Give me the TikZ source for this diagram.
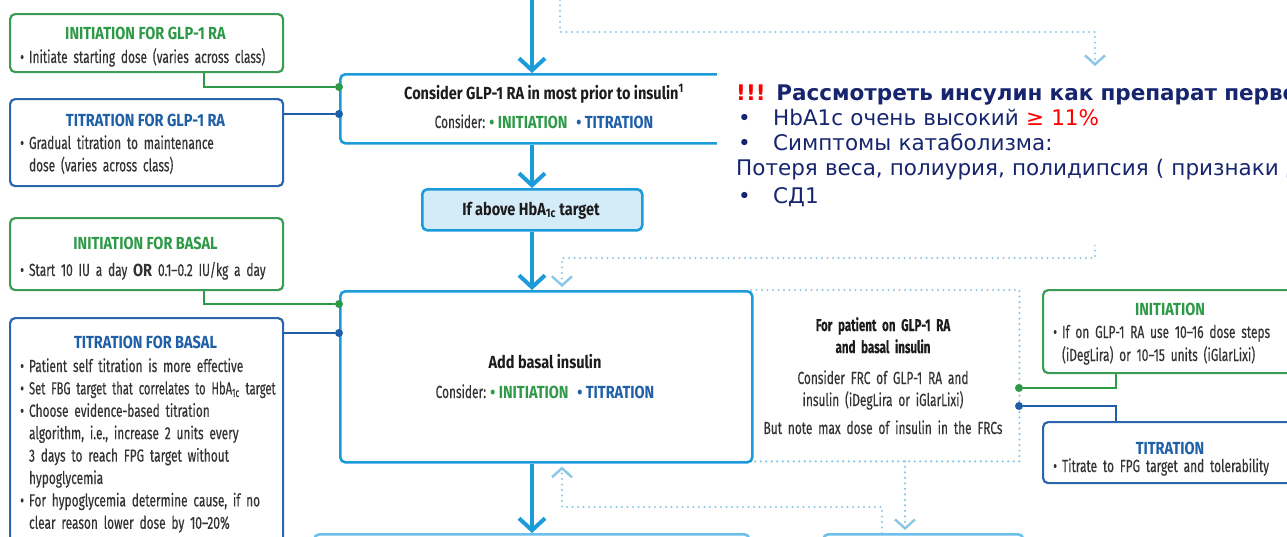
\documentclass[tikz,border=0pt]{standalone}
\usepackage{fontspec}
\usetikzlibrary{arrows.meta}
\newfontfamily\cf{Fira Sans}[FakeStretch=0.68, FakeBold=0.3]
\newfontfamily\cfb{Fira Sans Bold}[FakeStretch=0.83]
\newfontfamily\rufont{DejaVu Sans}
\definecolor{cG}{HTML}{2E9A48}
\definecolor{cGb}{HTML}{3C9C55}
\definecolor{cB}{HTML}{1F5FA8}
\definecolor{cBb}{HTML}{2B66AC}
\definecolor{cM}{HTML}{1B9BD9}
\definecolor{cD}{HTML}{8CC6E6}
\definecolor{cH}{HTML}{D4EBF8}
\definecolor{cL}{HTML}{6CC0EC}
\definecolor{cT}{HTML}{333333}
\definecolor{cK}{HTML}{1C1C1C}
\definecolor{cN}{HTML}{16256E}
\definecolor{cR}{HTML}{FF0000}
\newcommand\bul{•\hspace{5pt}}
\newcommand\nobul{\phantom{•}\hspace{5pt}}
\begin{document}
\begin{tikzpicture}[x=1pt,y=-1pt,
  box/.style={inner sep=0, anchor=north west, rounded corners=5pt, fill=white},
  gbox/.style={box, draw=cGb, line width=2.2pt},
  bbox/.style={box, draw=cBb, line width=2.2pt},
  mbox/.style={box, draw=cM, line width=2.6pt},
  hbox/.style={box, draw=cM, line width=2.6pt, fill=cH},
  lbox/.style={box, draw=cL, line width=2.6pt},
  gdot/.style={circle, fill=cG, inner sep=0, minimum size=8pt},
  bdot/.style={circle, fill=cB, inner sep=0, minimum size=8pt},
  gline/.style={draw=cG, line width=2.2pt},
  bline/.style={draw=cB, line width=2.2pt},
  main/.style={draw=cM, line width=4pt, -{Straight Barb[length=12pt,width=26pt]}},
  dotl/.style={draw=cD, line width=2.4pt, line cap=round, dash pattern=on 0pt off 5.5pt},
  dtip/.style={-{Straight Barb[length=9pt,width=20pt,line width=2.4pt]}},
  txt/.style={inner sep=0, font=\cf\fontsize{17.5}{22.4}\selectfont, text=cT},
  ttl/.style={txt, font=\cfb\fontsize{17.5}{22.4}\selectfont, anchor=base},
  lst/.style={txt, anchor=base west, text width=270pt, align=left},
  ctr/.style={txt, anchor=base, text width=300pt, align=center},
]
\useasboundingbox (0,0) rectangle (1287,536);
\clip (0,0) rectangle (1287,536);
\fill[white] (0,0) rectangle (1287,536);

% ---------- boxes ----------
\node[gbox, minimum width=273, minimum height=58] (ig) at (9,13) {};
\node[bbox, minimum width=273, minimum height=87] (tg) at (9,98) {};
\node[mbox, minimum width=412, minimum height=69] (glp) at (339,73) {};
\node[hbox, minimum width=220, minimum height=41] (hba) at (421,188) {};
\node[gbox, minimum width=273, minimum height=72] (ib) at (9,217) {};
\node[bbox, minimum width=273, minimum height=260] (tb) at (9,317) {};
\node[inner sep=0, anchor=north west, minimum width=268, minimum height=171] (frc) at (751,290) {};
\draw[dotl] (frc.north west) -- (frc.north east) -- (frc.south east) -- (frc.south west);
\node[mbox, minimum width=412, minimum height=171] (basal) at (339,290) {};
\node[gbox, minimum width=270, minimum height=83] (ri) at (1042,289) {};
\node[bbox, minimum width=270, minimum height=61] (rt) at (1042,421) {};
\node[lbox, minimum width=435, minimum height=60] (bl) at (313,533) {};
\node[lbox, minimum width=200, minimum height=60] (br) at (822,533) {};

% ---------- dots and side connectors ----------
\node[gdot] (d1) at (339,87) {};
\node[bdot] (d2) at (339,114) {};
\node[gdot] (d3) at (339,304) {};
\node[bdot] (d4) at (339,333) {};
\node[gdot] (d5) at (1019,388) {};
\node[bdot] (d6) at (1019,406) {};
\draw[gline] ([xshift=57.5pt]ig.south) |- (d1);
\draw[bline] (tg.east |- d2) -- (d2);
\draw[gline] ([xshift=57.5pt]ib.south) |- (d3);
\draw[bline] (tb.east |- d4) -- (d4);
\draw[gline] (d5) -| ([xshift=-62pt]ri.south);
\draw[bline] (d6) -| ([xshift=-62pt]rt.north);

% ---------- main arrows ----------
\coordinate (m) at (532,0);
\draw[main] (m) -- (glp.north -| m);
\draw[main] (glp.south -| m) -- (hba.north -| m);
\draw[main] (hba.south -| m) -- (basal.north -| m);
\draw[main] (basal.south -| m) -- (bl.north -| m);

% ---------- dotted connectors ----------
\coordinate (t0) at (560,0);
\coordinate (t1) at (1095,66);
\coordinate (t2) at (1095,245);
\coordinate (v1) at (905,0);
\coordinate (v2) at (882,0);
\coordinate (v3) at (562,0);
\draw[dotl, dtip] (t0) -- ++(0,32) -| (t1);
\draw[dotl, dtip] (t2) -- ++(0,13) -| ([yshift=3pt]basal.north -| v3);
\draw[dotl, dtip] (frc.south -| v1) -- ([yshift=3pt]br.north -| v1);
\draw[dotl, dtip] (br.north -| v2) -- ++(0,-26) -| ([yshift=-3pt]basal.south -| v3);

% ---------- texts, left column ----------
\node[ttl, text=cG] (igt) at (145.5,39) {INITIATION FOR GLP-1 RA};
\node[lst] (igl) at (20,63) {\bul Initiate starting dose (varies across class)};
\node[ttl, text=cB] (tgt) at (145.5,126) {TITRATION FOR GLP-1 RA};
\node[lst] (tgl) at (20,149) {\bul Gradual titration to maintenance\\\nobul dose (varies across class)};
\node[ttl, text=cG] (ibt) at (145.5,249) {INITIATION FOR BASAL};
\node[lst] (ibl) at (20,276) {\bul Start 10 IU a day {\cfb OR} 0.1–0.2 IU/kg a day};
\node[ttl, text=cB] (tbt) at (145.5,348) {TITRATION FOR BASAL};
\node[lst] (tbl) at (20,372) {\bul Patient self titration is more effective\\
\bul {\addfontfeatures{FakeStretch=0.64}Set FBG target that correlates to HbA\textsubscript{1c} target}\\
\bul Choose evidence-based titration\\
\nobul algorithm, i.e., increase 2 units every\\
\nobul 3 days to reach FPG target without\\
\nobul hypoglycemia\\
\bul For hypoglycemia determine cause, if no\\
\nobul clear reason lower dose by 10–20\%};

% ---------- texts, centre column ----------
\node[ttl, text=cK] (glp1) at (544,99) {Consider GLP-1 RA in most prior to insulin\textsuperscript{1}};
\node[txt, anchor=base] (glp2) at (544,128) {Consider: \textcolor{cG}{\cfb • INITIATION}\enspace\textcolor{cB}{\cfb • TITRATION}};
\node[ttl, text=cK] (hbat) at (531,215) {If above HbA\textsubscript{1c} target};
\node[ttl, text=cK] (bas1) at (545,368) {Add basal insulin};
\node[txt, anchor=base] (bas2) at (545,398) {Consider: \textcolor{cG}{\cfb • INITIATION}\enspace\textcolor{cB}{\cfb • TITRATION}};
\node[ctr, text=cK, font=\cf\bfseries\fontsize{17}{22}\selectfont] (frc1) at (883,331) {For patient on GLP-1 RA\\and basal insulin};
\node[ctr, font=\cf\fontsize{17.5}{22}\selectfont] (frc2) at (883,384) {Consider FRC of GLP-1 RA and\\insulin (iDegLira or iGlarLixi)};
\node[ctr] (frc3) at (883,434) {But note max dose of insulin in the FRCs};

% ---------- texts, right column ----------
\node[ttl, text=cG] (rit) at (1170,315) {INITIATION};
\node[lst, font=\cf\fontsize{17.5}{23}\selectfont] (ril) at (1053,338) {\bul If on GLP-1 RA use 10–16 dose steps\\\nobul (iDegLira) or 10–15 units (iGlarLixi)};
\node[ttl, text=cB] (rtt) at (1170,454) {TITRATION};
\node[lst] (rtl) at (1053,472) {\bul Titrate to FPG target and tolerability};

% ---------- Russian note ----------
\node[inner sep=0, anchor=north west, fill=white, minimum width=580, minimum height=177] (ru) at (717,68) {};
\node[inner sep=0, anchor=base west, text width=800pt, align=left, text=cN,
      font=\rufont\fontsize{21.5}{25}\selectfont] (rut) at (736,100)
{{\bfseries\textcolor{cR}{!!!} Рассмотреть инсулин как препарат первой линии}\\
\makebox[37pt][l]{\hspace{2pt}•}HbA1c очень высокий \textcolor{cR}{≥ 11\%}\\
\makebox[37pt][l]{\hspace{2pt}•}Симптомы катаболизма:\\
Потеря веса, полиурия, полидипсия ( признаки дефицита инсулина)\\[3pt]
\makebox[37pt][l]{\hspace{2pt}•}СД1};
\end{tikzpicture}
\end{document}
